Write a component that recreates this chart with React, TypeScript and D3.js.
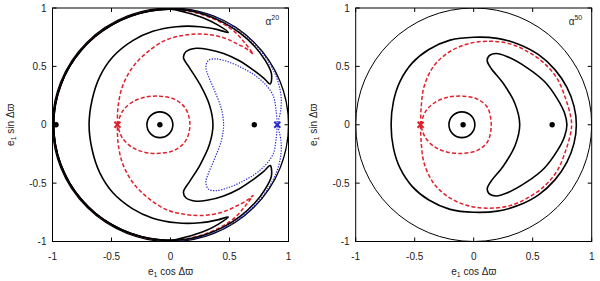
import React from 'react';
import * as d3 from 'd3';

type P = [number, number];

// ---------- axes ----------
const TICKS = [-1, -0.5, 0, 0.5, 1];
const TICK_LABELS = ['-1', '-0.5', '0', '0.5', '1'];
const PANEL_LABELS = ['20', '50'];

// ---------- left panel (alpha^20) ----------
// points where the contours run along the e1 = 1 boundary
const RIM: P[] = [[0.0, 0.99], [-0.172, 0.975], [-0.339, 0.93], [-0.495, 0.857], [-0.636, 0.758], [-0.758, 0.636], [-0.857, 0.495], [-0.93, 0.339], [-0.975, 0.172], [-0.99, 0], [-0.975, -0.172], [-0.93, -0.339], [-0.857, -0.495], [-0.758, -0.636], [-0.636, -0.758], [-0.495, -0.857], [-0.339, -0.93], [-0.172, -0.975], [0.0, -0.99]];

const BIG_L_TOP: P[] = [[0.49, 0.79], [0.4, 0.855], [0.28, 0.915], [0.14, 0.96]];
const BIG_L_BOTTOM: P[] = [[0.14, -0.96], [0.28, -0.915], [0.4, -0.855], [0.49, -0.79]];
const BIG_L_ARC: P[] = [[0.4, -0.815], [0.25, -0.84], [0.05, -0.84], [-0.15, -0.8], [-0.32, -0.72], [-0.49, -0.58], [-0.6, -0.41], [-0.665, -0.21], [-0.69, 0], [-0.665, 0.21], [-0.6, 0.41], [-0.49, 0.58], [-0.32, 0.72], [-0.15, 0.8], [0.05, 0.84], [0.25, 0.84], [0.4, 0.815]];

const CRES_L_UPPER: P[] = [[0.36, 0], [0.33, 0.17], [0.25, 0.345], [0.16, 0.49], [0.11, 0.575], [0.13, 0.625], [0.22, 0.655], [0.32, 0.645], [0.45, 0.61], [0.58, 0.55], [0.7, 0.47], [0.79, 0.4], [0.845, 0.35], [0.855, 0.44], [0.8, 0.555], [0.71, 0.675], [0.59, 0.785], [0.45, 0.875], [0.3, 0.94], [0.15, 0.978]];
const CRES_L_LOWER: P[] = [[0.15, -0.978], [0.3, -0.94], [0.45, -0.875], [0.59, -0.785], [0.71, -0.675], [0.8, -0.555], [0.855, -0.44], [0.845, -0.35], [0.79, -0.4], [0.7, -0.47], [0.58, -0.55], [0.45, -0.61], [0.32, -0.645], [0.22, -0.655], [0.13, -0.625], [0.11, -0.575], [0.16, -0.49], [0.25, -0.345], [0.33, -0.17]];

const RED_L_INNER: P[] = [[-0.45, 0], [-0.41, 0.11], [-0.33, 0.19], [-0.22, 0.235], [-0.09, 0.245], [0.03, 0.22], [0.12, 0.15], [0.16, 0.05], [0.16, -0.05], [0.12, -0.15], [0.03, -0.22], [-0.09, -0.245], [-0.22, -0.235], [-0.33, -0.19], [-0.41, -0.11], [-0.45, 0]];
const RED_L_OUT_UP: P[] = [[-0.45, 0], [-0.445, 0.15], [-0.41, 0.32], [-0.33, 0.48], [-0.21, 0.61], [-0.04, 0.725], [0.14, 0.77], [0.3, 0.775], [0.45, 0.745], [0.57, 0.69], [0.66, 0.64], [0.7, 0.605], [0.63, 0.7], [0.54, 0.8], [0.42, 0.88], [0.28, 0.94], [0.12, 0.98]];
const RED_L_OUT_DOWN: P[] = [[0.12, -0.98], [0.28, -0.94], [0.42, -0.88], [0.54, -0.8], [0.63, -0.7], [0.7, -0.605], [0.66, -0.64], [0.57, -0.69], [0.45, -0.745], [0.3, -0.775], [0.14, -0.77], [-0.04, -0.725], [-0.21, -0.61], [-0.33, -0.48], [-0.41, -0.32], [-0.445, -0.15], [-0.45, 0]];

const BLUE_L_OUT_UP: P[] = [[0.905, 0], [0.935, 0.13], [0.935, 0.26], [0.895, 0.415], [0.82, 0.555], [0.72, 0.685], [0.59, 0.8], [0.44, 0.892], [0.28, 0.955], [0.12, 0.987]];
const BLUE_L_OUT_DOWN: P[] = [[0.12, -0.987], [0.28, -0.955], [0.44, -0.892], [0.59, -0.8], [0.72, -0.685], [0.82, -0.555], [0.895, -0.415], [0.935, -0.26], [0.935, -0.13], [0.905, 0]];
const BLUE_L_INNER: P[] = [[0.905, 0], [0.895, 0.12], [0.87, 0.25], [0.8, 0.35], [0.72, 0.42], [0.62, 0.48], [0.5, 0.535], [0.38, 0.565], [0.32, 0.55], [0.3, 0.49], [0.32, 0.42], [0.37, 0.3], [0.43, 0.14], [0.45, 0], [0.43, -0.14], [0.37, -0.3], [0.32, -0.42], [0.3, -0.49], [0.32, -0.55], [0.38, -0.565], [0.5, -0.535], [0.62, -0.48], [0.72, -0.42], [0.8, -0.35], [0.87, -0.25], [0.895, -0.12], [0.905, 0]];

const DOTS_L: P[] = [[-0.09, 0], [0.71, 0], [-0.97, 0]];
const SMALL_CIRCLE_L = { cx: -0.09, cy: 0, r: 0.11 };
const RED_X_L: P = [-0.45, 0];
const BLUE_X_L: P = [0.905, 0];

// ---------- right panel (alpha^50) ----------
const BIG_R: P[] = [[-0.7, 0], [-0.68, 0.2], [-0.625, 0.37], [-0.52, 0.53], [-0.38, 0.645], [-0.2, 0.725], [0.0, 0.75], [0.2, 0.74], [0.38, 0.69], [0.55, 0.6], [0.69, 0.47], [0.79, 0.32], [0.85, 0.16], [0.87, 0], [0.85, -0.16], [0.79, -0.32], [0.69, -0.47], [0.55, -0.6], [0.38, -0.69], [0.2, -0.74], [0.0, -0.75], [-0.2, -0.725], [-0.38, -0.645], [-0.52, -0.53], [-0.625, -0.37], [-0.68, -0.2]];
const CRES_R: P[] = [[0.39, 0], [0.35, 0.18], [0.25, 0.355], [0.15, 0.48], [0.115, 0.545], [0.13, 0.59], [0.19, 0.61], [0.28, 0.585], [0.45, 0.49], [0.6, 0.37], [0.71, 0.22], [0.77, 0.1], [0.79, 0], [0.77, -0.1], [0.71, -0.22], [0.6, -0.37], [0.45, -0.49], [0.28, -0.585], [0.19, -0.61], [0.13, -0.59], [0.115, -0.545], [0.15, -0.48], [0.25, -0.355], [0.35, -0.18]];
const RED_R_INNER: P[] = [[-0.45, 0], [-0.41, 0.11], [-0.33, 0.19], [-0.22, 0.235], [-0.09, 0.245], [0.03, 0.22], [0.115, 0.15], [0.145, 0.05], [0.145, -0.05], [0.115, -0.15], [0.03, -0.22], [-0.09, -0.245], [-0.22, -0.235], [-0.33, -0.19], [-0.41, -0.11], [-0.45, 0]];
const RED_R_OUTER: P[] = [[-0.45, 0], [-0.445, 0.15], [-0.42, 0.33], [-0.34, 0.5], [-0.22, 0.615], [-0.06, 0.69], [0.11, 0.715], [0.3, 0.695], [0.46, 0.625], [0.6, 0.525], [0.71, 0.39], [0.78, 0.22], [0.82, 0.08], [0.83, 0], [0.82, -0.08], [0.78, -0.22], [0.71, -0.39], [0.6, -0.525], [0.46, -0.625], [0.3, -0.695], [0.11, -0.715], [-0.06, -0.69], [-0.22, -0.615], [-0.34, -0.5], [-0.42, -0.33], [-0.445, -0.15], [-0.45, 0]];
const DOTS_R: P[] = [[-0.09, 0], [0.665, 0]];
const SMALL_CIRCLE_R = { cx: -0.1, cy: 0, r: 0.11 };
const RED_X_R: P = [-0.45, 0];

const UNIT_CIRCLE = { cx: 0, cy: 0, r: 1 };

type Kind = 'black' | 'red' | 'blue';
interface Curve { pts: P[]; closed: boolean; kind: Kind; }

const LEFT_CURVES: Curve[] = [
  { pts: [...BIG_L_TOP, ...RIM, ...BIG_L_BOTTOM, ...BIG_L_ARC], closed: true, kind: 'black' },
  { pts: [...CRES_L_UPPER, ...RIM, ...CRES_L_LOWER], closed: true, kind: 'black' },
  { pts: RED_L_INNER, closed: false, kind: 'red' },
  { pts: [...RED_L_OUT_UP, ...RIM, ...RED_L_OUT_DOWN], closed: false, kind: 'red' },
  { pts: [...BLUE_L_OUT_UP, ...RIM, ...BLUE_L_OUT_DOWN], closed: false, kind: 'blue' },
  { pts: BLUE_L_INNER, closed: false, kind: 'blue' },
];
const RIGHT_CURVES: Curve[] = [
  { pts: BIG_R, closed: true, kind: 'black' },
  { pts: CRES_R, closed: true, kind: 'black' },
  { pts: RED_R_INNER, closed: false, kind: 'red' },
  { pts: RED_R_OUTER, closed: false, kind: 'red' },
];

const RED = '#e0202c';
const BLUE = '#2a2ad8';
const FONT = 'Liberation Sans, Arial, sans-serif';

const STYLE: Record<Kind, any> = {
  black: { stroke: '#000', strokeWidth: 1.6 },
  red: { stroke: RED, strokeWidth: 1.5, strokeDasharray: '4 2.2' },
  blue: { stroke: BLUE, strokeWidth: 1.2, strokeDasharray: '1.3 1.4' },
};

interface PanelProps {
  x0: number;
  curves: Curve[];
  dots: P[];
  small: { cx: number; cy: number; r: number };
  crosses: { p: P; color: string }[];
  sup: string;
  unitWidth: number;
  order: Kind[];
}

function Panel({ x0, curves, dots, small, crosses, sup, unitWidth, order }: PanelProps) {
  const W = 236;
  const top = 8;
  const bottom = 241.5;
  const x = d3.scaleLinear().domain([-1, 1]).range([x0, x0 + W]);
  const y = d3.scaleLinear().domain([-1, 1]).range([bottom, top]);
  const mk = (closed: boolean) =>
    d3.line<P>().x(d => x(d[0])).y(d => y(d[1])).curve(closed ? d3.curveCatmullRomClosed.alpha(0.5) : d3.curveCatmullRom.alpha(0.5));
  const ell = (c: { cx: number; cy: number; r: number }, w: number, key: string) => (
    <ellipse key={key} cx={x(c.cx)} cy={y(c.cy)} rx={x(c.r) - x(0)} ry={y(0) - y(c.r)} fill="none" stroke="#000" strokeWidth={w} />
  );
  const tickLen = 4;
  return (
    <g>
      <defs>
        <clipPath id={`clip${Math.round(x0)}`}>
          <rect x={x0} y={top} width={W} height={bottom - top} />
        </clipPath>
      </defs>
      <g clipPath={`url(#clip${Math.round(x0)})`}>
        {ell(UNIT_CIRCLE, unitWidth, 'unit')}
        {order.map(k =>
          curves.filter(c => c.kind === k).map((c, i) => (
            <path key={k + i} d={mk(c.closed)(c.pts) || ''} fill="none" {...STYLE[k]} strokeLinejoin="round" />
          ))
        )}
        {ell(small, 1.6, 'small')}
        {dots.map((d, i) => (
          <circle key={'d' + i} cx={x(d[0])} cy={y(d[1])} r={2.7} fill="#000" />
        ))}
        {crosses.map((c, i) => (
          <g key={'c' + i} stroke={c.color} strokeWidth={2}>
            <line x1={x(c.p[0]) - 3} y1={y(c.p[1]) - 3} x2={x(c.p[0]) + 3} y2={y(c.p[1]) + 3} />
            <line x1={x(c.p[0]) - 3} y1={y(c.p[1]) + 3} x2={x(c.p[0]) + 3} y2={y(c.p[1]) - 3} />
          </g>
        ))}
      </g>
      {/* frame */}
      <rect x={x0} y={top} width={W} height={bottom - top} fill="none" stroke="#000" strokeWidth={1} />
      {TICKS.map((t, i) => (
        <g key={'t' + i} stroke="#000" strokeWidth={1}>
          <line x1={x(t)} x2={x(t)} y1={bottom} y2={bottom - tickLen} />
          <line x1={x(t)} x2={x(t)} y1={top} y2={top + tickLen} />
          <line x1={x0} x2={x0 + tickLen} y1={y(t)} y2={y(t)} />
          <line x1={x0 + W} x2={x0 + W - tickLen} y1={y(t)} y2={y(t)} />
        </g>
      ))}
      {TICKS.map((t, i) => (
        <text key={'xl' + i} x={x(t)} y={259.5} textAnchor="middle" fontFamily={FONT} fontSize={10} fill="#222">
          {TICK_LABELS[i]}
        </text>
      ))}
      {TICKS.map((t, i) => (
        <text key={'yl' + i} x={x0 - 6} y={y(t) + 3.5} textAnchor="end" fontFamily={FONT} fontSize={10} fill="#222">
          {TICK_LABELS[i]}
        </text>
      ))}
      <text x={x(0)} y={275} textAnchor="middle" fontFamily={FONT} fontSize={10} fill="#222">
        e<tspan fontSize={7} dy={2}>1</tspan>
        <tspan dy={-2}> cos Δϖ</tspan>
      </text>
      <text transform={`translate(${x0 - 39},${y(0)}) rotate(-90)`} textAnchor="middle" fontFamily={FONT} fontSize={10} fill="#222">
        e<tspan fontSize={7} dy={2}>1</tspan>
        <tspan dy={-2}> sin Δϖ</tspan>
      </text>
      <text x={x0 + W - 23} y={25} fontFamily={FONT} fontSize={10} fill="#222">
        α<tspan fontSize={7} dy={-5}>{sup}</tspan>
      </text>
    </g>
  );
}

export default function App() {
  return (
    <svg width={600} height={281} style={{ position: 'absolute', left: 0, top: 0, background: '#fff' }}>
      <rect x={0} y={0} width={600} height={281} fill="#fff" />
      <Panel
        x0={52.5}
        curves={LEFT_CURVES}
        dots={DOTS_L}
        small={SMALL_CIRCLE_L}
        crosses={[{ p: RED_X_L, color: RED }, { p: BLUE_X_L, color: BLUE }]}
        sup={PANEL_LABELS[0]}
        unitWidth={1.3}
        order={['red', 'blue', 'black']}
      />
      <Panel
        x0={355.7}
        curves={RIGHT_CURVES}
        dots={DOTS_R}
        small={SMALL_CIRCLE_R}
        crosses={[{ p: RED_X_R, color: RED }]}
        sup={PANEL_LABELS[1]}
        unitWidth={1}
        order={['black', 'red', 'blue']}
      />
    </svg>
  );
}
